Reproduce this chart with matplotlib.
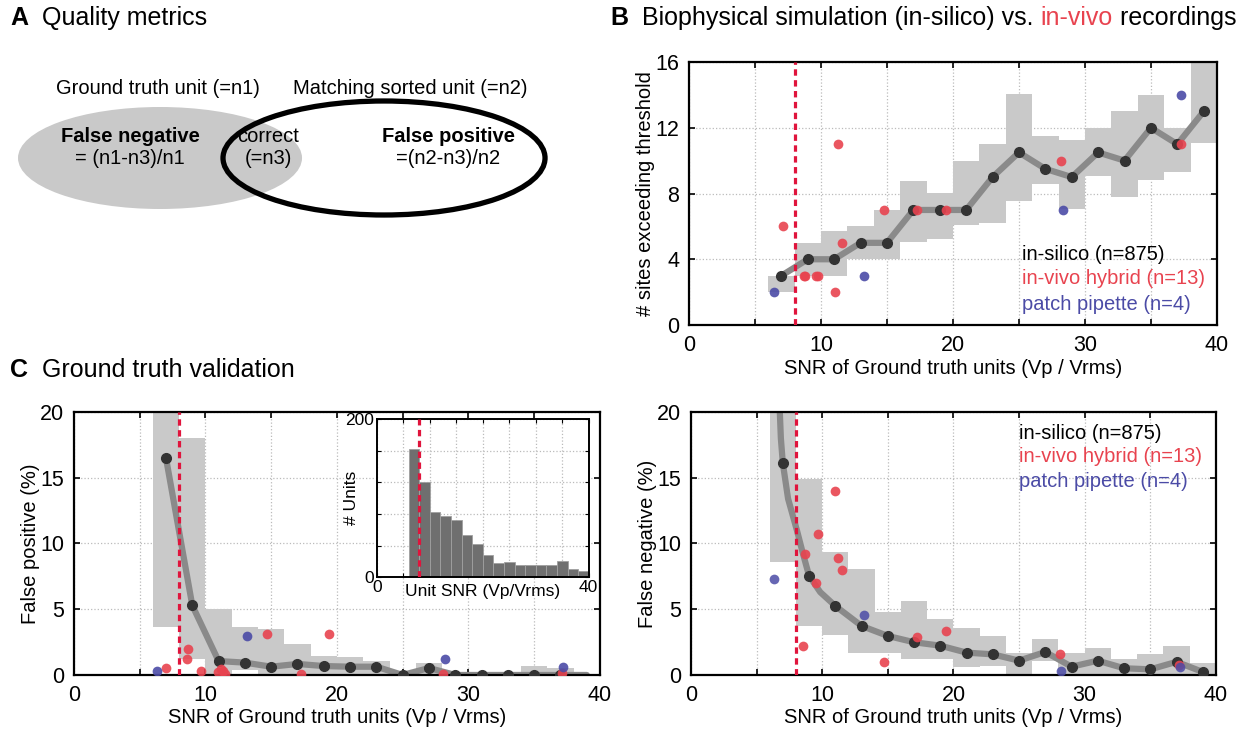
import numpy as np
import matplotlib
matplotlib.use("Agg")
import matplotlib.pyplot as plt
from matplotlib.patches import Ellipse

plt.rcParams['font.family'] = ['Liberation Sans', 'DejaVu Sans']

# ---------------- data ----------------
bin_centers = [7, 9, 11, 13, 15, 17, 19, 21, 23, 25, 27, 29, 31, 33, 35, 37, 39]
bin_edges = [6, 8, 10, 12, 14, 16, 18, 20, 22, 24, 26, 28, 30, 32, 34, 36, 38, 40]

# B: sites exceeding threshold
sites_mean = [3, 4, 4, 5, 5, 7, 7, 7, 9, 10.5, 9.5, 9, 10.5, 10, 12, 11, 13]
sites_lo = [2.0, 3.0, 3.0, 4.0, 4.0, 5.05, 5.25, 6.08, 6.2, 7.53, 8.55, 7.03, 9.05, 7.8, 8.81, 9.29, 11.07]
sites_hi = [3.0, 5.0, 5.7, 6.0, 7.0, 8.75, 8.04, 10.0, 11.0, 14.04, 11.5, 11.27, 11.98, 12.99, 14.0, 11.98, 16.5]
hyb_snr_b = [7.09, 8.69, 8.8, 9.6, 9.75, 11.3, 11.6, 11.07, 14.78, 17.27, 19.49, 28.17, 37.24]
hyb_sites = [6, 3, 3, 3, 3, 11, 5, 2, 7, 7, 7, 10, 11]
patch_snr_b = [6.44, 13.26, 28.3, 37.24]
patch_sites = [2, 3, 7, 14]

# C: false positive
fp_mean = [16.5, 5.29, 1.06, 0.94, 0.63, 0.84, 0.68, 0.63, 0.63, 0.0, 0.53, 0.0, 0.0, 0.0, 0.0, 0.0, 0.0]
fp_lo = [3.62, 1.19, -0.5, 0.38, -0.5, -0.5, -0.5, -0.5, -0.5, -0.5, -0.5, -0.5, -0.5, -0.5, -0.5, -0.5, -0.5]
fp_hi = [21, 18.05, 5.04, 3.67, 3.5, 2.33, 1.44, 1.34, 1.06, 0.2, 0.89, 0.25, 0.2, 0.1, 0.68, 0.5, 0.1]
hyb_snr_c = [6.99, 8.7, 8.58, 9.7, 10.94, 11.2, 11.3, 11.5, 14.7, 17.3, 19.4, 28.1, 37.1]
hyb_fp = [0.56, 2.0, 1.24, 0.33, 0.25, 0.48, 0.3, 0.05, 3.09, 0.05, 3.14, 0.1, 0.13]
patch_snr_c = [6.33, 13.16, 28.2, 37.2]
patch_fp = [0.33, 2.96, 1.24, 0.58]

# D: false negative
fn_mean = [16.1, 7.54, 5.25, 3.73, 2.97, 2.49, 2.23, 1.7, 1.57, 1.09, 1.75, 0.63, 1.09, 0.51, 0.43, 1.0, 0.23]
fn_lo = [8.63, 3.73, 3.02, 1.7, 1.7, 1.19, 1.2, 0.63, 0.7, -0.5, 1.09, -0.5, -0.5, -0.5, -0.5, -0.5, -0.5]
fn_hi = [21, 14.9, 9.34, 8.05, 4.77, 5.63, 4.24, 3.55, 2.97, 1.7, 2.72, 1.7, 2.08, 1.2, 1.57, 2.2, 0.9]
fn_curve_x = [6.75, 6.85, 7, 7.4, 8.1, 8.5, 9, 9.85, 11, 13, 15, 17, 19, 21, 23, 25, 27, 29, 31, 33, 35, 37, 39]
fn_curve_y = [20.5, 18, 16.1, 13.4, 10.9, 9.35, 7.54, 6.3, 5.25, 3.73, 2.97, 2.49, 2.23, 1.7, 1.57, 1.09,
              1.75, 0.63, 1.09, 0.51, 0.43, 1.0, 0.23]
hyb_snr_d = [8.54, 8.69, 9.54, 9.7, 10.97, 11.2, 11.5, 14.7, 17.26, 19.4, 28.1, 37.2]
hyb_fn = [2.2, 9.19, 6.98, 10.7, 14.0, 8.93, 8.0, 0.96, 2.92, 3.37, 1.6, 0.76]
patch_snr_d = [6.32, 13.16, 28.2, 37.26]
patch_fn = [7.31, 4.54, 0.3, 0.58]

# inset histogram of unit SNR
hist_counts = [162, 120, 82, 77, 73, 54, 42, 28, 18, 19, 16, 16, 16, 16, 21, 10, 8]

snr_threshold = 8

RED = '#e8434f'
BLUE = '#4b4ba6'
BAND = '#c9c9c9'
LINE = '#8a8a8a'
DOT = '#333333'
FS = 14.5

fig = plt.figure(figsize=(12.47, 7.34), dpi=100)


def style_axes(ax, ymax, ystep):
    ax.set_xlim(0, 40)
    ax.set_ylim(0, ymax)
    ax.set_xticks([0, 10, 20, 30, 40])
    ax.set_xticks([5, 15, 25, 35], minor=True)
    ax.set_yticks(np.arange(0, ymax + 0.1, ystep))
    ax.tick_params(which='both', direction='in', top=True, right=True, labelsize=15.5,
                   length=4, width=1.2, pad=7)
    ax.tick_params(which='minor', length=4)
    ax.grid(which='both', linestyle=':', color='#bbbbbb', linewidth=0.9)
    ax.set_axisbelow(True)
    for s in ax.spines.values():
        s.set_linewidth(1.6)
    ax.set_xlabel('SNR of Ground truth units (Vp / Vrms)', fontsize=FS, labelpad=2)


def band(ax, lo, hi):
    ax.fill_between(bin_edges, list(lo) + [lo[-1]], list(hi) + [hi[-1]], step='post',
                    color=BAND, linewidth=0, zorder=1)


def colored_line(ax, x, y, text_list):
    for (txt, col), yy in zip(text_list, y):
        ax.text(x, yy, txt, color=col, fontsize=FS, transform=ax.transAxes, va='center', ha='left')


legend_items = [('in-silico (n=875)', 'black'), ('in-vivo hybrid (n=13)', RED), ('patch pipette (n=4)', BLUE)]

# ---------------- panel B ----------------
axb = fig.add_axes([0.5525, 0.5572, 0.4234, 0.3583])
style_axes(axb, 16, 4)
band(axb, sites_lo, sites_hi)
axb.plot(bin_centers, sites_mean, color=LINE, lw=4.5, zorder=2, solid_capstyle='round')
axb.plot(bin_centers, sites_mean, 'o', color=DOT, ms=7, zorder=4)
axb.plot(hyb_snr_b, hyb_sites, 'o', color=RED, ms=7, alpha=0.9, mec='none', zorder=5)
axb.plot(patch_snr_b, patch_sites, 'o', color=BLUE, ms=7, alpha=0.9, mec='none', zorder=5)
axb.axvline(snr_threshold, color='#e0143c', ls=(0, (2, 1.4)), lw=2.3, zorder=6)
axb.set_ylabel('# sites exceeding threshold', fontsize=FS, labelpad=0)
colored_line(axb, 0.631, [0.27, 0.175, 0.077], legend_items)

# ---------------- panel C ----------------
axc = fig.add_axes([0.0593, 0.0804, 0.4218, 0.3583])
style_axes(axc, 20, 5)
band(axc, fp_lo, fp_hi)
axc.plot(bin_centers, fp_mean, color=LINE, lw=4.5, zorder=2, solid_capstyle='round')
axc.plot(bin_centers[:-1], fp_mean[:-1], 'o', color=DOT, ms=7, zorder=4)
axc.plot(hyb_snr_c, hyb_fp, 'o', color=RED, ms=7, alpha=0.9, mec='none', zorder=5)
axc.plot(patch_snr_c, patch_fp, 'o', color=BLUE, ms=7, alpha=0.9, mec='none', zorder=5)
axc.axvline(snr_threshold, color='#e0143c', ls=(0, (2, 1.4)), lw=2.3, zorder=6)
axc.set_ylabel('False positive (%)', fontsize=FS, labelpad=0)

# inset histogram
axi = fig.add_axes([0.3021, 0.2135, 0.17, 0.2153])
axi.bar(bin_edges[:-1], hist_counts, width=2, align='edge', color='#6f6f6f',
        edgecolor='#a0a0a0', linewidth=0.6, zorder=2)
axi.axvline(snr_threshold, color='#e0143c', ls=(0, (2, 1.4)), lw=2.3, zorder=3)
axi.set_xlim(0, 40)
axi.set_ylim(0, 200)
axi.set_xticks(np.arange(0, 41, 5))
axi.set_xticklabels(['0', '', '', '', '', '', '', '', '40'])
axi.set_yticks(np.arange(0, 201, 40))
axi.set_yticklabels(['0', '', '', '', '', '200'])
axi.tick_params(direction='in', top=True, right=True, labelsize=12.5, length=3, pad=2)
axi.grid(linestyle=':', color='#bbbbbb', linewidth=0.9)
axi.set_axisbelow(True)
for s in axi.spines.values():
    s.set_linewidth(1.4)
axi.set_ylabel('# Units', fontsize=12.5, labelpad=-10)
axi.text(0.5, -0.09, 'Unit SNR (Vp/Vrms)', transform=axi.transAxes, ha='center', va='center', fontsize=12.5)

# ---------------- panel D ----------------
axd = fig.add_axes([0.5541, 0.0804, 0.421, 0.3583])
style_axes(axd, 20, 5)
band(axd, fn_lo, fn_hi)
axd.plot(fn_curve_x, fn_curve_y, color=LINE, lw=4.5, zorder=2, solid_capstyle='round')
axd.plot(bin_centers, fn_mean, 'o', color=DOT, ms=7, zorder=4)
axd.plot(hyb_snr_d, hyb_fn, 'o', color=RED, ms=7, alpha=0.9, mec='none', zorder=5)
axd.plot(patch_snr_d, patch_fn, 'o', color=BLUE, ms=7, alpha=0.85, mec='none', zorder=5)
axd.axvline(snr_threshold, color='#e0143c', ls=(0, (2, 1.4)), lw=2.3, zorder=6)
axd.set_ylabel('False negative (%)', fontsize=FS, labelpad=0)
colored_line(axd, 0.625, [0.92, 0.83, 0.736], legend_items)

# ---------------- panel A (diagram, pixel coordinates) ----------------
axa = fig.add_axes([0, 0.5, 0.49, 0.5])
axa.set_xlim(0, 611)
axa.set_ylim(367, 0)
axa.axis('off')
axa.add_patch(Ellipse((160, 158), 284, 102, facecolor=BAND, edgecolor='none'))
axa.add_patch(Ellipse((384, 158), 322, 114, facecolor='none', edgecolor='black', linewidth=3.8))
axa.text(158, 88, 'Ground truth unit (=n1)', fontsize=FS, ha='center', va='center')
axa.text(410, 88, 'Matching sorted unit (=n2)', fontsize=FS, ha='center', va='center')
axa.text(130, 137, 'False negative', fontsize=FS, fontweight='bold', ha='center', va='center')
axa.text(130, 159, '= (n1-n3)/n1', fontsize=FS, ha='center', va='center')
axa.text(268, 137, 'correct', fontsize=FS, ha='center', va='center')
axa.text(268, 159, '(=n3)', fontsize=FS, ha='center', va='center')
axa.text(448, 137, 'False positive', fontsize=FS, fontweight='bold', ha='center', va='center')
axa.text(448, 159, '=(n2-n3)/n2', fontsize=FS, ha='center', va='center')

# ---------------- panel titles ----------------
renderer = fig.canvas.get_renderer()


def title_pieces(x_px, y_px, pieces):
    x = x_px
    for txt, col, weight in pieces:
        t = fig.text(x / 1247, 1 - y_px / 734, txt, color=col, fontweight=weight,
                     fontsize=18, ha='left', va='center')
        bb = t.get_window_extent(renderer=renderer)
        x += bb.width


title_pieces(10, 18, [('A', 'black', 'bold'), ('  Quality metrics', 'black', 'normal')])
title_pieces(610, 18, [('B', 'black', 'bold'),
                       ('  Biophysical simulation (in-silico) vs. ', 'black', 'normal'),
                       ('in-vivo', RED, 'normal'), (' recordings', 'black', 'normal')])
title_pieces(10, 370, [('C', 'black', 'bold'), ('  Ground truth validation', 'black', 'normal')])

fig.savefig('out.png', dpi=100)
